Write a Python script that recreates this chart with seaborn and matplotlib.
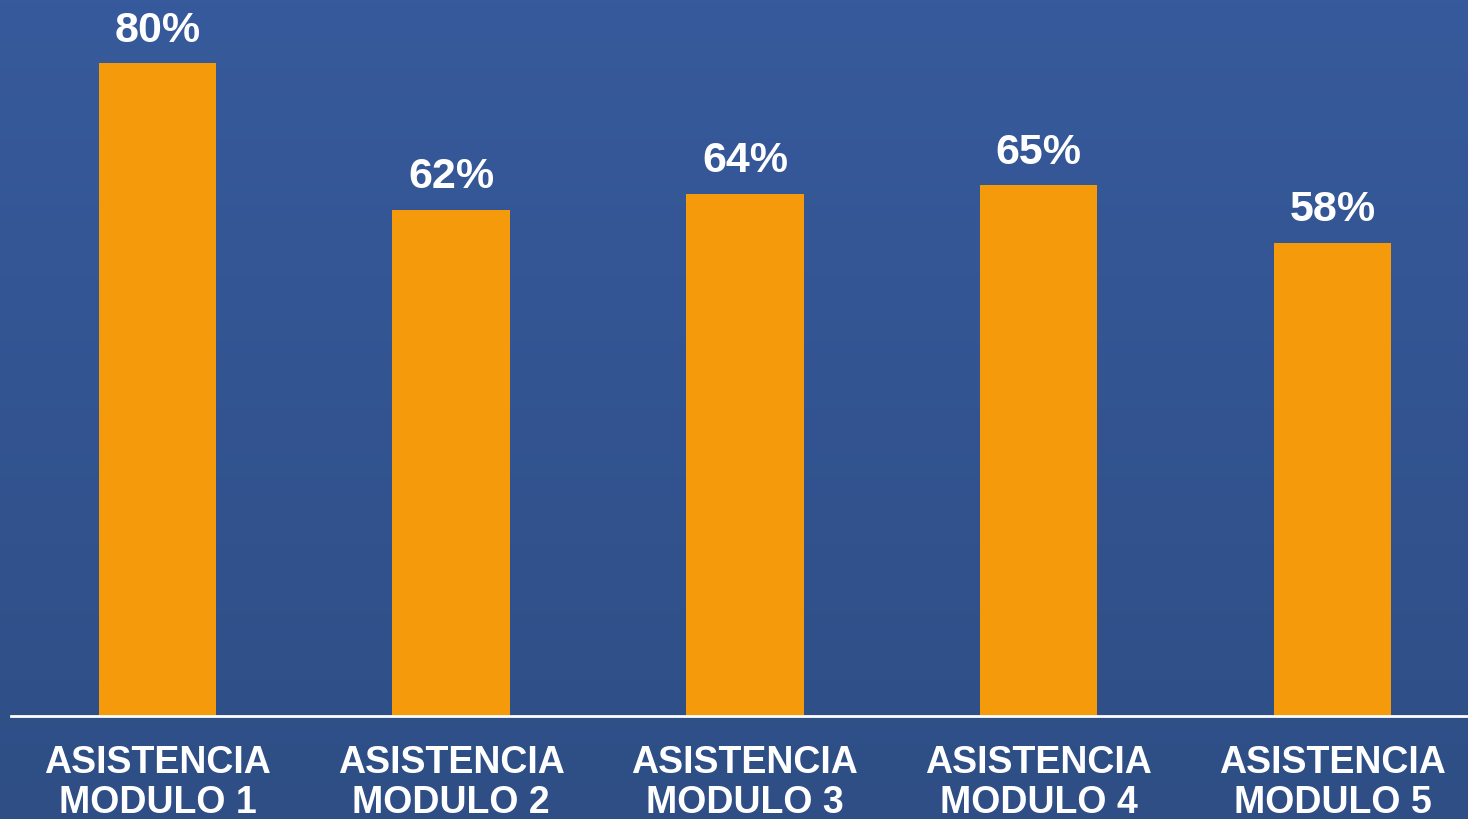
import numpy as np
import pandas as pd
import matplotlib
matplotlib.use("Agg")
import matplotlib.pyplot as plt
import seaborn as sns

categories = ["ASISTENCIA\nMODULO 1", "ASISTENCIA\nMODULO 2", "ASISTENCIA\nMODULO 3",
              "ASISTENCIA\nMODULO 4", "ASISTENCIA\nMODULO 5"]
values = [80, 62, 64, 65, 58]

sns.set_theme(style="white")
plt.rcParams['font.family'] = ['Liberation Sans', 'DejaVu Sans']

W, H, DPI = 1468, 819, 100
fig = plt.figure(figsize=(W / DPI, H / DPI), dpi=DPI)

# gradient background
bg = fig.add_axes([0, 0, 1, 1], zorder=0)
top = np.array([55, 90, 156]) / 255
bot = np.array([46, 78, 133]) / 255
t = np.linspace(0, 1, 256)[:, None]
grad = (top[None, :] * (1 - t) + bot[None, :] * t)[:, None, :]
grad = np.repeat(grad, 2, axis=1)
bg.imshow(grad, aspect='auto', extent=[0, 1, 0, 1], origin='upper')
bg.set_axis_off()

left_px = 10.6
step_px = 293.75
ax = fig.add_axes([left_px / W, (H - 716) / H, 5 * step_px / W, 716 / H], zorder=1)
ax.patch.set_alpha(0)

df = pd.DataFrame({"cat": categories, "val": values})
sns.barplot(data=df, x="cat", y="val", color="#F59B0B", saturation=1, width=0.4,
            ax=ax, linewidth=0)
ax.set_xlim(-0.5, 4.5)
ax.set_ylim(0, 716 / 8.1625)

for i, v in enumerate(values):
    ax.annotate(f"{v}%", (i, v), xytext=(0, 9), textcoords="offset points",
                ha="center", va="bottom", color="white", fontsize=31, fontweight="bold")

ax.set_xlabel("")
ax.set_ylabel("")
ax.set_yticks([])
ax.tick_params(axis='x', length=0, pad=21, labelsize=27, labelcolor="white")
for lab in ax.get_xticklabels():
    lab.set_fontweight("bold")
    lab.set_linespacing(1.12)
for s in ["top", "right", "left"]:
    ax.spines[s].set_visible(False)
ax.spines["bottom"].set_color("white")
ax.spines["bottom"].set_linewidth(2)

fig.savefig("out.png", dpi=DPI)
